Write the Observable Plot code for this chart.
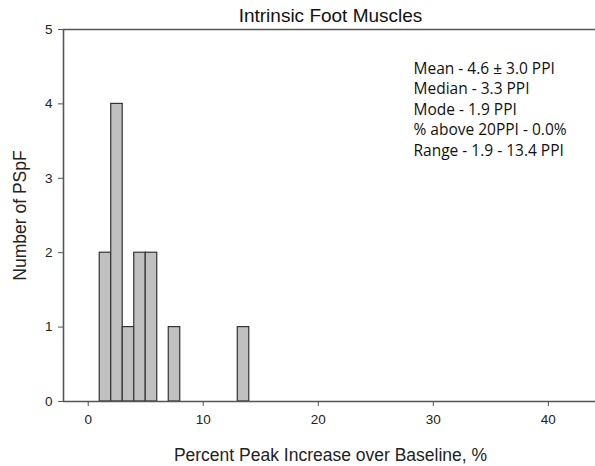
<!DOCTYPE html>
<html>
<head>
<meta charset="utf-8">
<script src="https://cdn.jsdelivr.net/npm/d3@7"></script>
<script src="https://cdn.jsdelivr.net/npm/@observablehq/plot@0.6"></script>
<style>
  html, body { margin: 0; padding: 0; background: #fff; }
  svg { display: block; }
</style>
</head>
<body>
<div id="chart"></div>
<script>
// Histogram bins (1 PPI wide) and counts of PSpF
const binStart = [1, 2, 3, 4, 5, 7, 13];
const binEnd   = [2, 3, 4, 5, 6, 8, 14];
const counts   = [2, 4, 1, 2, 2, 1, 1];

const xTicks = [0, 10, 20, 30, 40];
const yTicks = [0, 1, 2, 3, 4, 5];

const title = "Intrinsic Foot Muscles";
const xLabel = "Percent Peak Increase over Baseline, %";
const yLabel = "Number of PSpF";
const stats = [
  "Mean - 4.6 \u00b1 3.0 PPI",
  "Median - 3.3 PPI",
  "Mode - 1.9 PPI",
  "% above 20PPI - 0.0%",
  "Range - 1.9 - 13.4 PPI"
];

const bins = binStart.map((s, i) => ({x1: s, x2: binEnd[i], y: counts[i]}));

const axisColor = "#555";
const font = "Liberation Sans, Arial, sans-serif";
const xDomain = [-2.15, 44.1];

// one text mark per summary line, stacked down from the top of the frame
const statMarks = stats.map((s, i) => Plot.text([s], {
  frameAnchor: "top-left",
  dx: 350,
  dy: 44 + i * 20.6,
  lineAnchor: "bottom",
  textAnchor: "start",
  text: d => d,
  fontFamily: "Open Sans, Noto Sans, sans-serif",
  fontSize: 15.5,
  fill: "#111"
}));

const chart = Plot.plot({
  width: 595,
  height: 466,
  marginTop: 29,
  marginBottom: 65,
  marginLeft: 63,
  marginRight: 0,
  style: {fontFamily: font, fontSize: "13px", color: "#222", background: "#fff"},
  x: {domain: xDomain, ticks: xTicks, label: null},
  y: {domain: [0, 5], ticks: yTicks, label: null},
  marks: [
    Plot.rectY(bins, {x1: "x1", x2: "x2", y: "y", fill: "#c0c0c0", stroke: "#333", strokeWidth: 1.2, inset: 0}),
    // frame lines: left, bottom, top
    Plot.ruleX([xDomain[0]], {stroke: axisColor, strokeWidth: 1.6}),
    Plot.ruleY([0], {stroke: axisColor, strokeWidth: 1.6}),
    Plot.ruleY([5], {stroke: axisColor, strokeWidth: 1.6}),
    Plot.axisX({ticks: xTicks, tickFormat: "d", tickSize: 5, tickPadding: 8, stroke: axisColor, fill: "#222", fontSize: 13.5, label: null}),
    Plot.axisY({ticks: yTicks, tickFormat: "d", tickSize: 5, tickPadding: 6, stroke: axisColor, fill: "#222", fontSize: 13.5, label: null}),
    Plot.text([title], {frameAnchor: "top", dx: 1, dy: -8, lineAnchor: "bottom", fontSize: 19, fill: "#111", text: d => d}),
    Plot.text([xLabel], {frameAnchor: "bottom", dx: 1, dy: 59, lineAnchor: "bottom", fontSize: 17.5, fill: "#222", text: d => d}),
    Plot.text([yLabel], {frameAnchor: "left", dx: -43, rotate: -90, textAnchor: "middle", fontSize: 17.5, fill: "#222", text: d => d}),
    ...statMarks
  ]
});

document.getElementById("chart").appendChild(chart);
</script>
</body>
</html>
